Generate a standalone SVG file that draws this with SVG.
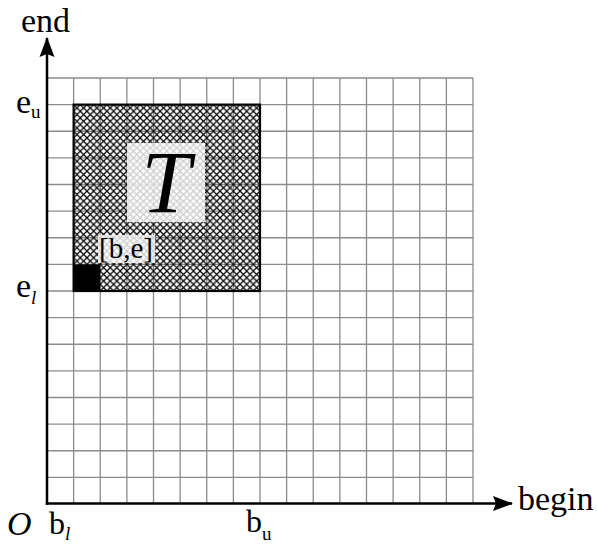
<svg xmlns="http://www.w3.org/2000/svg" width="597" height="544" viewBox="0 0 597 544">
<style>
.grid{stroke:#8c8c8c;stroke-width:1.3;fill:none}
.lbl{font-family:"Liberation Serif","Times New Roman",serif;fill:#000}
.it{font-style:italic}
.axis{stroke:#000;stroke-width:2.5;fill:none}
.hl{fill:#fff;fill-opacity:0.8}
</style>
<defs>
<pattern id="xh" patternUnits="userSpaceOnUse" x="73.625" y="104.625" width="6.65625" height="6.65625">
<path d="M-1,-1L7.65625,7.65625M-1,7.65625L7.65625,-1" stroke="#000" stroke-width="1.2"/>
</pattern>
<marker id="arr" markerUnits="userSpaceOnUse" markerWidth="22" markerHeight="16" refX="19" refY="7.5" orient="auto" viewBox="0 0 22 15">
<path d="M0,0 L20,7.5 L0,15 L3,7.5 Z" fill="#000"/>
</marker>
</defs>
<rect width="597" height="544" fill="#fff"/>
<g id="grid">
<path class="grid" d="M73.625,78V504M100.25,78V504M126.875,78V504M153.5,78V504M180.125,78V504M206.75,78V504M233.375,78V504M260,78V504M286.625,78V504M313.25,78V504M339.875,78V504M366.5,78V504M393.125,78V504M419.75,78V504M446.375,78V504M473,78V504M47,477.375H473M47,450.75H473M47,424.125H473M47,397.5H473M47,370.875H473M47,344.25H473M47,317.625H473M47,291H473M47,264.375H473M47,237.75H473M47,211.125H473M47,184.5H473M47,157.875H473M47,131.25H473M47,104.625H473M47,78H473"/>
</g>
<g id="T">
<rect x="73.625" y="104.625" width="186.375" height="186.375" fill="url(#xh)"/>
<rect x="73.625" y="104.625" width="186.375" height="186.375" fill="none" stroke="#000" stroke-width="2.2"/>
<rect class="hl" x="127" y="143" width="78" height="79"/>
<text class="lbl it" x="166" y="212" font-size="88" text-anchor="middle">T</text>
</g>
<g id="cell">
<rect x="73.625" y="264.375" width="26.625" height="26.625" fill="#000"/>
<rect class="hl" x="98" y="235" width="57" height="28"/>
<text class="lbl" x="99" y="258" font-size="29">[b,e]</text>
</g>
<g id="connectors">
<path class="axis" d="M45.75,503.5H512" marker-end="url(#arr)"/>
<path class="axis" d="M47,504.75V38" marker-end="url(#arr)"/>
</g>
<g id="labels">
<text class="lbl" x="21" y="32" font-size="34">end</text>
<text class="lbl" x="518" y="510" font-size="34">begin</text>
<text class="lbl it" x="7" y="535" font-size="34">O</text>
<text class="lbl" x="16" y="113" font-size="34">e<tspan font-size="19" dy="5">u</tspan></text>
<text class="lbl" x="16" y="297" font-size="34">e<tspan class="it" font-size="19" dy="7">l</tspan></text>
<text class="lbl" x="49" y="534" font-size="32">b<tspan class="it" font-size="19" dy="6">l</tspan></text>
<text class="lbl" x="246" y="532" font-size="32">b<tspan font-size="19" dy="8">u</tspan></text>
</g>
</svg>
